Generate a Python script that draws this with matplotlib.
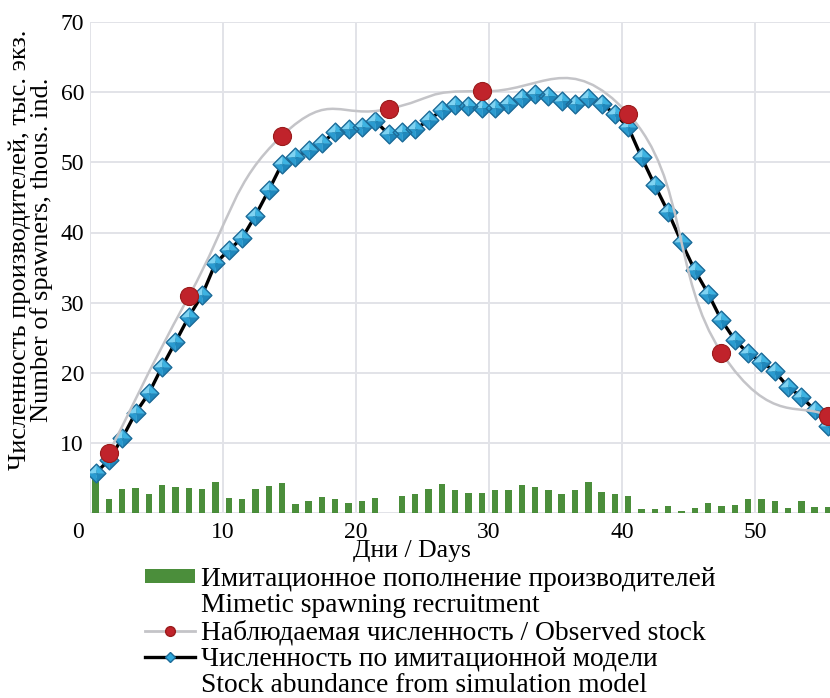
# Spawning stock: observed vs simulation model

import numpy as np
import matplotlib
matplotlib.use("Agg")
import matplotlib.pyplot as plt
from matplotlib.path import Path
from matplotlib.patches import PathPatch, Patch
from matplotlib.lines import Line2D

plt.rcParams['font.family'] = ['Liberation Serif', 'DejaVu Serif']

# one value per day of the run
days = np.arange(1, 57)
recruitment = [5.0, 2.1, 3.4, 3.65, 2.8, 4.0, 3.7, 3.65, 3.4, 4.5,
               2.2, 2.1, 3.5, 3.9, 4.3, 1.3, 1.8, 2.3, 2.1, 1.5,
               1.75, 2.2, 0.0, 2.4, 2.75, 3.5, 4.2, 3.3, 2.85, 2.85,
               3.3, 3.3, 4.1, 3.75, 3.3, 2.7, 3.3, 4.5, 3.0, 2.7,
               2.5, 0.57, 0.57, 1.05, 0.33, 0.8, 1.45, 1.0, 1.2, 2.1,
               2.0, 1.75, 0.7, 1.7, 0.95, 0.9]
simulated = [5.7, 7.6, 10.7, 14.3, 17.1, 20.9, 24.4, 28.0, 31.1, 35.6,
             37.5, 39.2, 42.4, 46.0, 49.8, 50.7, 51.7, 52.8, 54.3, 54.7,
             55.0, 55.9, 54.0, 54.3, 54.7, 56.0, 57.4, 58.2, 58.0, 57.8,
             57.8, 58.3, 59.1, 59.7, 59.5, 58.8, 58.3, 59.2, 58.3, 56.9,
             55.0, 50.7, 46.7, 42.9, 38.6, 34.6, 31.3, 27.5, 24.7, 22.8,
             21.6, 20.2, 18.0, 16.6, 14.7, 12.4]

# field counts
obs_days = np.array([2, 8, 15, 23, 30, 41, 48, 56])
observed = [8.6, 30.9, 53.8, 57.6, 60.1, 56.9, 22.9, 13.8]

x_ticks = [0, 10, 20, 30, 40, 50]
y_ticks = [0, 10, 20, 30, 40, 50, 60, 70]

labels = ["Имитационное пополнение производителей",
          "Mimetic spawning recruitment",
          "Наблюдаемая численность / Observed stock",
          "Численность по имитационной модели",
          "Stock abundance from simulation model"]

GREEN = '#4b8e3b'
BLUE = '#2fa9dc'
BLUE_EDGE = '#1d6b98'
RED = '#c0232b'
RED_EDGE = '#9a1b1b'
GREY = '#c4c4c8'

SHIFT = 0.55  # points sit a bit left of the day number


def smooth_path(xs, ys, t=0.25):
    """Bezier curve through the points, like a spreadsheet smoothed line"""
    pts = np.column_stack([xs, ys])
    n = len(pts)
    verts = [pts[0]]
    codes = [Path.MOVETO]
    for i in range(n - 1):
        p0 = pts[i - 1] if i > 0 else pts[i]
        p1 = pts[i]
        p2 = pts[i + 1]
        p3 = pts[i + 2] if i + 2 < n else pts[i + 1]
        verts += [p1 + (p2 - p0) * t, p2 - (p3 - p1) * t, p2]
        codes += [Path.CURVE4] * 3
    return Path(verts, codes)


# bevelled diamond marker: four facets and an outline
L, T, R, B, C = (-1, 0), (0, 1), (1, 0), (0, -1), (0, 0)
facets = [([L, T, C, L], '#7fd3f2'),
          ([T, R, C, T], '#3db3e2'),
          ([R, B, C, R], '#1f88bd'),
          ([B, L, C, B], '#2a9bd0')]
outline = Path([L, T, R, B, L], closed=True)

fig = plt.figure(figsize=(8.3, 6.98), dpi=100)
ax = fig.add_axes([89.6 / 830, 1 - 513.3 / 698, 1 - 89.6 / 830, (513.3 - 21.9) / 698])

x = days - SHIFT
xo = obs_days - SHIFT

ax.bar(x, recruitment, width=0.48, color=GREEN, zorder=2)
ax.plot(x, simulated, color='black', lw=2.4, zorder=3)
for verts, col in facets:
    ax.plot(x, simulated, ls='none', marker=Path(verts, closed=True), ms=13.5,
            mfc=col, mec=col, mew=0.3, zorder=4)
ax.plot(x, simulated, ls='none', marker=outline, ms=13.5, mfc='none',
        mec=BLUE_EDGE, mew=1.0, zorder=4)
ax.add_patch(PathPatch(smooth_path(xo, observed), fill=False, ec=GREY, lw=1.8,
                       zorder=5))
ax.plot(xo, observed, ls='none', marker='o', ms=13, mfc=RED, mec=RED_EDGE,
        mew=0.8, zorder=6)

ax.set_xlim(0, 55.6)
ax.set_ylim(0, 70)
ax.set_xticks(x_ticks)
ax.set_yticks(y_ticks)
ax.set_xticklabels([''] + [str(v) for v in x_ticks[1:]])
ax.set_yticklabels([''] + [str(v) for v in y_ticks[1:]])
ax.tick_params(length=0, labelsize=17, pad=4)
ax.tick_params(axis='x', pad=6)
ax.annotate('0', (0, 0), xytext=(-8, -6), textcoords='offset points',
            ha='center', va='top', fontsize=17, annotation_clip=False)
ax.grid(True, color='#e2e3e8', lw=1.4, zorder=0)
ax.set_axisbelow(True)
for s in ax.spines.values():
    s.set_visible(False)

fig.text(412 / 830, 1 - 551 / 698, 'Дни / Days', ha='center', va='center',
         fontsize=18.5)
fig.text(31 / 830, 1 - 250 / 698,
         'Численность производителей, тыс. экз.\nNumber of spawners, thous. ind.',
         rotation=90, ha='center', va='center', fontsize=19, linespacing=0.93)

blank = Line2D([], [], color='none')
handles = [Patch(facecolor=GREEN),
           blank,
           Line2D([], [], color=GREY, lw=2, marker='o', ms=7, mfc=RED, mec=RED_EDGE),
           Line2D([], [], color='black', lw=2.4, marker='D', ms=5.5, mfc=BLUE,
                  mec=BLUE_EDGE),
           blank]
fig.legend(handles, labels, loc='upper left',
           bbox_to_anchor=(145 / 830, 1 - 567 / 698), frameon=False,
           borderpad=0, borderaxespad=0, handlelength=1.8, handleheight=0.38,
           handletextpad=0.25, labelspacing=0.05, fontsize=19.8)

fig.savefig('out.png', dpi=100)
